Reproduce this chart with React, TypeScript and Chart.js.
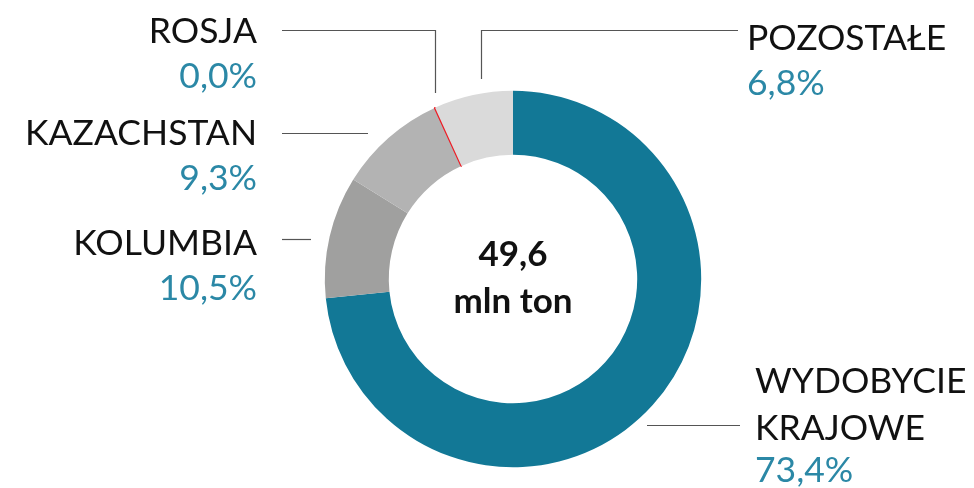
import React, { useEffect, useRef } from 'react';
import { Chart, registerables } from 'chart.js';

Chart.register(...registerables);

const categories = ['WYDOBYCIE KRAJOWE', 'KOLUMBIA', 'KAZACHSTAN', 'ROSJA', 'POZOSTAŁE'];
const shares = [73.4, 10.5, 9.3, 0.04, 6.8];
const sliceColors = ['#127896', '#a0a09f', '#b3b3b3', '#ee1c25', '#dadada'];
const totalValue = '49,6';
const totalUnit = 'mln ton';

const FONT = 'Lato, "Noto Sans", sans-serif';
const PCT_COLOR = '#2b88a6';
const LINE_COLOR = '#555555';

const fmt = (v: number) => v.toFixed(1).replace('.', ',') + '%';

const labelPlugin = {
  id: 'labelPlugin',
  afterDraw(chart: any) {
    const ctx = chart.ctx as CanvasRenderingContext2D;
    const meta = chart.getDatasetMeta(0);
    const arc0 = meta.data[0];
    const cx = arc0.x;
    const cy = arc0.y;
    ctx.save();

    // leader lines
    ctx.strokeStyle = LINE_COLOR;
    ctx.lineWidth = 1.2;
    const seg = (pts: number[][]) => {
      ctx.beginPath();
      ctx.moveTo(pts[0][0], pts[0][1]);
      for (let i = 1; i < pts.length; i++) ctx.lineTo(pts[i][0], pts[i][1]);
      ctx.stroke();
    };
    seg([[282, 30.5], [435.5, 30.5], [435.5, 93]]);
    seg([[481.5, 79], [481.5, 30.5], [738, 30.5]]);
    seg([[282, 133.5], [368, 133.5]]);
    seg([[282, 239.5], [311, 239.5]]);
    seg([[647, 425.5], [740, 425.5]]);

    // side labels
    ctx.font = `400 35.5px ${FONT}`;
    ctx.textBaseline = 'alphabetic';
    const left = [
      { i: 3, y: 43 },
      { i: 2, y: 145 },
      { i: 1, y: 255 },
    ];
    ctx.textAlign = 'right';
    for (const l of left) {
      ctx.fillStyle = '#111111';
      ctx.fillText(categories[l.i], 257, l.y);
      ctx.fillStyle = PCT_COLOR;
      ctx.fillText(fmt(shares[l.i]), 257, l.y + 45);
    }
    ctx.textAlign = 'left';
    ctx.fillStyle = '#111111';
    ctx.fillText(categories[4], 747, 50);
    ctx.fillStyle = PCT_COLOR;
    ctx.fillText(fmt(shares[4]), 747, 95);

    const words = categories[0].split(' ');
    ctx.fillStyle = '#111111';
    ctx.fillText(words[0], 755, 393);
    ctx.fillText(words[1], 755, 440);
    ctx.fillStyle = PCT_COLOR;
    ctx.fillText(fmt(shares[0]), 755, 482);

    // centre
    ctx.textAlign = 'center';
    ctx.fillStyle = '#111111';
    ctx.font = `700 35px ${FONT}`;
    ctx.fillText(totalValue, cx, cy - 13);
    ctx.fillText(totalUnit, cx, cy + 34);
    ctx.restore();
  },
};

export default function App() {
  const ref = useRef<HTMLCanvasElement | null>(null);
  useEffect(() => {
    document.body.style.margin = '0';
    const chart = new Chart(ref.current as HTMLCanvasElement, {
      type: 'doughnut',
      data: {
        labels: categories,
        datasets: [
          {
            data: shares,
            backgroundColor: sliceColors,
            borderColor: sliceColors,
            borderWidth: [0, 0, 0, 1.6, 0],
          },
        ],
      },
      options: {
        animation: false,
        responsive: false,
        cutout: '66%',
        layout: { padding: { left: 324, right: 272, top: 90, bottom: 20 } },
        plugins: { legend: { display: false }, tooltip: { enabled: false } },
      },
      plugins: [labelPlugin],
    });
    return () => chart.destroy();
  }, []);
  return (
    <div style={{ width: 974, height: 488, background: '#fff' }}>
      <canvas ref={ref} width={974} height={488} />
    </div>
  );
}
